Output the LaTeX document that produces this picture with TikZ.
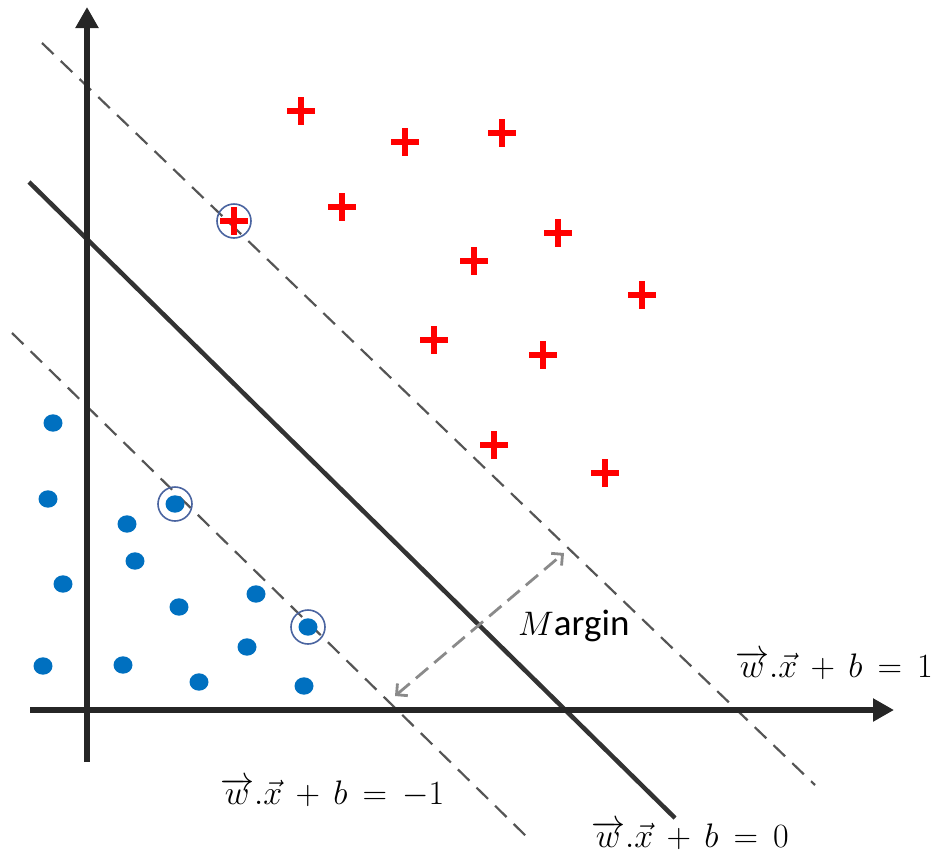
\RequirePackage{fix-cm}
\documentclass[tikz,border=0pt]{standalone}
\usepackage{fontspec}
\newfontfamily\calib{Carlito}
\usetikzlibrary{arrows.meta}
\definecolor{axisgray}{HTML}{262626}
\definecolor{linegray}{HTML}{333333}
\definecolor{dashgray}{HTML}{555555}
\definecolor{margray}{HTML}{8A8A8A}
\definecolor{dotblue}{HTML}{0070C0}
\definecolor{ringblue}{HTML}{4A64A0}
\definecolor{plusred}{HTML}{FF0000}
\begin{document}
\begin{tikzpicture}[x=1pt,y=-1pt,
  axisline/.style={line width=6.5pt, draw=axisgray, -{Triangle[length=21pt,width=22pt]}},
  hyper/.style={line width=4.5pt, draw=linegray},
  marginline/.style={line width=2.2pt, draw=dashgray, dash pattern=on 16pt off 10pt},
  marginarrow/.style={line width=2.8pt, draw=margray, dash pattern=on 16pt off 8pt,
     {Straight Barb[length=8pt,width=16pt,line width=2.8pt]}-{Straight Barb[length=8pt,width=16pt,line width=2.8pt]}},
  eqlabel/.style={anchor=base west, inner sep=0pt, font=\fontsize{34}{40}\selectfont},
  ring/.style={draw=ringblue, line width=1.6pt},
  plusmark/.pic={\fill[plusred] (-14,-3.3) rectangle (14,3.3); \fill[plusred] (-3.3,-14) rectangle (3.3,14);}
]
\useasboundingbox (0,0) rectangle (938,852);

% hyperplanes
\coordinate (u1) at (42,43);   \coordinate (u2) at (815,785);
\coordinate (h1) at (29,182);  \coordinate (h2) at (675,818);
\coordinate (l1) at (12,333);  \coordinate (l2) at (528,838);
\draw[marginline] (u1) -- (u2);
\draw[marginline] (l1) -- (l2);
\draw[hyper] (h1) -- (h2);

% axes
\coordinate (yb) at (87,762); \coordinate (yt) at (87,7);
\coordinate (xl) at (30,710); \coordinate (xr) at (894,710);
\draw[axisline] (yb) -- (yt);
\draw[axisline] (xl) -- (xr);

% margin arrow
\coordinate (ma) at (395,696); \coordinate (mb) at (564,553);
\draw[marginarrow] (ma) -- (mb);
\node[anchor=base west, inner sep=0pt] (marg) at (518,635)
  {\fontsize{34}{40}\selectfont$M$\fontsize{37}{42}\selectfont\calib argin};

% plus points
\foreach \p in {(301,111),(405,142),(502,133),(342,207),(234,221),(558,233),
                (474,261),(642,295),(434,340),(543,355),(494,445),(605,473)}
  \pic at \p {plusmark};

% blue points
\foreach \p in {(53,423),(48,499),(127,524),(175,504),(135,561),(63,584),
                (179,607),(256,594),(308,627),(43,666),(123,665),(247,647),
                (199,682),(304,686)}
  \fill[dotblue] \p ellipse [x radius=9.5, y radius=8.7];

% support vector rings
\draw[ring] (234,221) circle (17);
\draw[ring] (175,504) circle (17);
\draw[ring] (308,627) circle (17);

% labels
\node[eqlabel] (eq1) at (735,677) {$\overrightarrow{w}.\vec{x}\,+\,b\,=\,1$};
\node[eqlabel] (eqm) at (220,804) {$\overrightarrow{w}.\vec{x}\,+\,b\,=\,-1$};
\node[eqlabel] (eq0) at (591,847) {$\overrightarrow{w}.\vec{x}\,+\,b\,=\,0$};
\end{tikzpicture}
\end{document}
